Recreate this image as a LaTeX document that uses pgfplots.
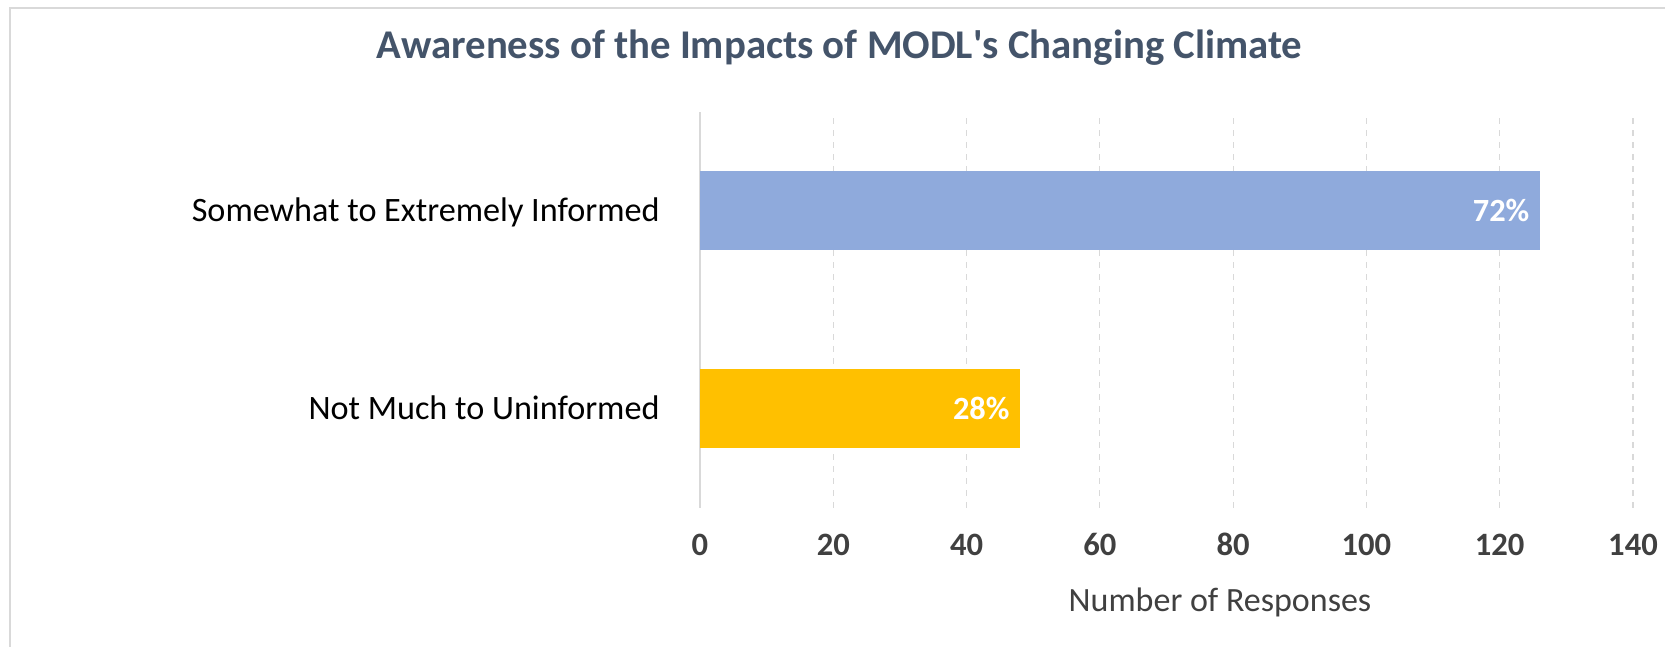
\documentclass[border=0pt]{standalone}
\usepackage{pgfplots}
\pgfplotsset{compat=1.18}
\usepackage{fontspec}
\setmainfont{Carlito}
\definecolor{titlecol}{HTML}{44546A}
\definecolor{tickcol}{HTML}{404040}
\definecolor{gridcol}{HTML}{D9D9D9}
\definecolor{barblue}{HTML}{8FAADC}
\definecolor{baryel}{HTML}{FFC000}

\begin{document}
\begin{tikzpicture}
% canvas: 1665 x 647 px at 0.5pt per px
\useasboundingbox (0,0) rectangle (832.5pt,323.5pt);
\draw[gridcol, line width=1pt] (5pt,0) -- (5pt,319.5pt) -- (832.5pt,319.5pt);
\node[titlecol, font=\fontsize{20.4}{23}\selectfont\bfseries, anchor=base]
    at (419.75pt,294pt) {Awareness of the Impacts of MODL\textquotesingle s Changing Climate};
\begin{axis}[
    at={(350pt,69.7pt)}, anchor=south west,
    scale only axis,
    width=466.5pt, height=198pt,
    xmin=0, xmax=140, ymin=-0.5, ymax=1.5,
    xtick={0,20,...,140},
    ytick={0,1},
    yticklabels={Not Much to Uninformed, Somewhat to Extremely Informed},
    major tick length=0pt,
    separate axis lines,
    axis x line*=bottom, axis y line*=left,
    x axis line style={draw=none},
    y axis line style={draw=gridcol, line width=1pt, -},
    xmajorgrids, grid style={gridcol, dashed, line width=0.6pt},
    /pgf/number format/assume math mode=true,
    xticklabel style={font=\fontsize{16.3}{18}\selectfont\bfseries, text=tickcol,
        anchor=base, yshift=-24pt, inner sep=0pt},
    yticklabel style={font=\fontsize{17.1}{20}\selectfont, text=black,
        anchor=base east, xshift=-20pt, yshift=-5.5pt, inner sep=0pt},
    xbar, bar width=39.5pt,
    nodes near coords,
    point meta=explicit symbolic,
    every node near coord/.append style={font=\fontsize{16.2}{18}\selectfont\bfseries,
        text=white, anchor=east, inner sep=0pt, xshift=-5pt},
    clip=false,
]
\addplot[xbar, bar shift=0pt, fill=barblue, draw=none] coordinates {(126,1) [72\%]};
\addplot[xbar, bar shift=0pt, fill=baryel, draw=none] coordinates {(48,0) [28\%]};
\end{axis}
\node[tickcol, font=\fontsize{17}{20}\selectfont, anchor=base]
    at (610pt,17.5pt) {Number of Responses};
\end{tikzpicture}
\end{document}
